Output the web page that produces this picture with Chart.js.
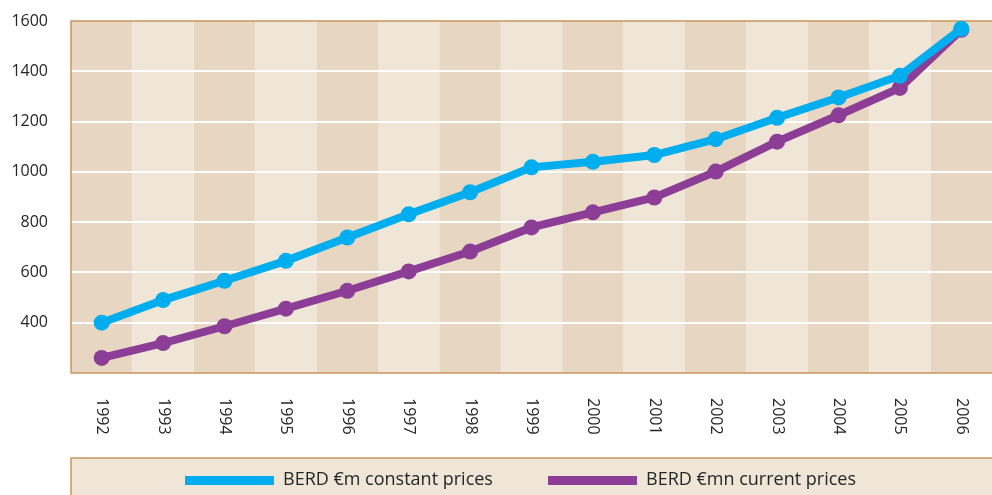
<!DOCTYPE html>
<html>
<head>
<meta charset="utf-8">
<script src="https://cdn.jsdelivr.net/npm/chart.js@4.4.0/dist/chart.umd.min.js"></script>
<style>
  html, body { margin: 0; padding: 0; background: #fff; }
  #wrap { position: relative; width: 992px; height: 495px; }
</style>
</head>
<body>
<div id="wrap"><canvas id="myChart" width="992" height="495"></canvas></div>
<script>
const years = ['1992', '1993', '1994', '1995', '1996', '1997', '1998', '1999',
    '2000', '2001', '2002', '2003', '2004', '2005', '2006'];
const constantPrices = [400, 490, 567, 646, 739, 831, 919, 1018, 1040, 1067, 1130, 1215, 1296, 1382, 1569];
const currentPrices = [260, 319, 386, 456, 527, 604, 683, 779, 839, 898, 1001, 1120, 1225, 1334, 1565];
const yTicks = [400, 600, 800, 1000, 1200, 1400, 1600];

const BLUE = '#00aeef';
const PURPLE = '#8c3e97';
const BAND_DARK = '#e7d6c1';
const BAND_LIGHT = '#efe6d7';
const TAN = '#c8965e';
const TEXT = '#262626';
const FONT = "'Open Sans', sans-serif";

// bands, frame, rotated year labels and the boxed legend
const decor = {
    id: 'decor',
    beforeDraw(chart) {
        const { ctx, chartArea: a, scales: { x } } = chart;
        const w = x.getPixelForValue(1) - x.getPixelForValue(0);
        ctx.save();
        years.forEach((_, i) => {
            const cx = x.getPixelForValue(i);
            ctx.fillStyle = i % 2 ? BAND_LIGHT : BAND_DARK;
            ctx.fillRect(cx - w / 2, a.top, w, a.bottom - a.top);
        });
        ctx.restore();
    },
    beforeDatasetsDraw(chart) {
        const { ctx, chartArea: a } = chart;
        ctx.save();
        ctx.strokeStyle = TAN;
        ctx.lineWidth = 1.5;
        ctx.beginPath();
        ctx.moveTo(chart.width, a.top);
        ctx.lineTo(a.left, a.top);
        ctx.lineTo(a.left, a.bottom);
        ctx.lineTo(chart.width, a.bottom);
        ctx.stroke();
        ctx.restore();
    },
    afterDraw(chart) {
        const { ctx, chartArea: a, scales: { x } } = chart;
        ctx.save();
        ctx.fillStyle = TEXT;
        ctx.font = '16px ' + FONT;
        ctx.textAlign = 'left';
        ctx.textBaseline = 'middle';
        years.forEach((lbl, i) => {
            ctx.save();
            ctx.translate(x.getPixelForValue(i), a.bottom + 25);
            ctx.rotate(Math.PI / 2);
            ctx.fillText(lbl, 0, 0);
            ctx.restore();
        });

        // legend box
        const top = 458;
        ctx.fillStyle = BAND_LIGHT;
        ctx.fillRect(a.left, top, chart.width - a.left, chart.height - top);
        ctx.strokeStyle = TAN;
        ctx.lineWidth = 1.5;
        ctx.beginPath();
        ctx.moveTo(chart.width, top);
        ctx.lineTo(a.left, top);
        ctx.lineTo(a.left, chart.height);
        ctx.stroke();

        const items = [[185, 1], [548, 0]];
        ctx.font = '18px ' + FONT;
        items.forEach(([lx, di]) => {
            const ds = chart.data.datasets[di];
            ctx.fillStyle = ds.borderColor;
            ctx.fillRect(lx, 476, 89, 9);
            ctx.fillStyle = TEXT;
            ctx.fillText(ds.label, lx + 98, 480);
        });
        ctx.restore();
    }
};

new Chart(document.getElementById('myChart'), {
    type: 'line',
    data: {
        labels: years,
        datasets: [
            {
                label: 'BERD €mn current prices',
                data: currentPrices,
                borderColor: PURPLE,
                backgroundColor: PURPLE,
                borderWidth: 8,
                pointRadius: 8,
                pointBorderWidth: 0,
                pointHoverRadius: 8,
                order: 2
            },
            {
                label: 'BERD €m constant prices',
                data: constantPrices,
                borderColor: BLUE,
                backgroundColor: BLUE,
                borderWidth: 8,
                pointRadius: 8,
                pointBorderWidth: 0,
                pointHoverRadius: 8,
                order: 1
            }
        ]
    },
    options: {
        responsive: false,
        animation: false,
        layout: { autoPadding: false, padding: { top: 21, right: 0, bottom: 37, left: 0 } },
        plugins: {
            legend: { display: false },
            tooltip: { enabled: false }
        },
        scales: {
            x: {
                offset: true,
                grid: { display: false },
                border: { display: false },
                ticks: { display: false },
                afterFit(scale) {
                    scale.height = 85;
                    scale.paddingLeft = 0;
                    scale.paddingRight = 0;
                }
            },
            y: {
                min: 200,
                max: 1600,
                afterBuildTicks(scale) {
                    scale.ticks = [200].concat(yTicks).map(v => ({ value: v }));
                },
                afterFit(scale) {
                    scale.width = 71;
                    scale.paddingTop = 0;
                    scale.paddingBottom = 0;
                },
                border: { display: false },
                grid: {
                    color: c => (c.tick.value === 200 || c.tick.value === 1600) ? 'rgba(0,0,0,0)' : '#ffffff',
                    lineWidth: 2,
                    drawTicks: false
                },
                ticks: {
                    padding: 23,
                    color: TEXT,
                    font: { family: FONT, size: 16 },
                    callback: v => (v === 200 ? '' : v)
                }
            }
        }
    },
    plugins: [decor]
});
</script>
</body>
</html>
